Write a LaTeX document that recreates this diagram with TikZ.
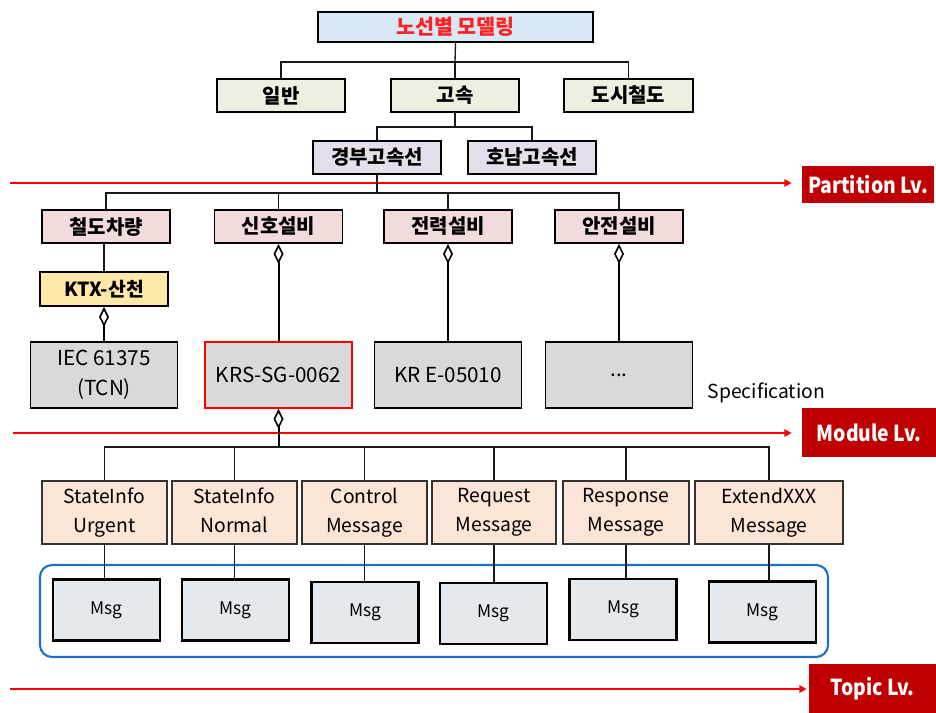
\documentclass[tikz,border=0pt]{standalone}
\usepackage{fontspec}
\setmainfont{Noto Sans CJK KR}
\usetikzlibrary{arrows.meta}
\definecolor{titlefill}{HTML}{D6E9F5}
\definecolor{rowtwo}{HTML}{EBF1DE}
\definecolor{rowthree}{HTML}{E5DFEC}
\definecolor{rowfour}{HTML}{F2DCDB}
\definecolor{ktxfill}{HTML}{FFE9A8}
\definecolor{specgray}{HTML}{D9D9D9}
\definecolor{peach}{HTML}{FBE5D6}
\definecolor{msgfill}{HTML}{E4E9EE}
\definecolor{groupblue}{HTML}{1F70C1}
\definecolor{lvlred}{HTML}{C00000}
\definecolor{titlered}{HTML}{FF2020}
\newcommand{\lvltext}[1]{\scalebox{0.88}[1]{#1}}
\begin{document}
\begin{tikzpicture}[x=0.75pt,y=-0.75pt,
  box/.style={draw=black, line width=1.4pt, inner sep=0pt, align=center},
  kbox/.style={box, font=\bfseries\fontsize{15}{17}\selectfont, minimum width=96pt, minimum height=24.75pt},
  specbox/.style={box, fill=specgray, minimum width=110.25pt, minimum height=49.5pt, font=\fontsize{15.5}{22.5}\selectfont},
  mbox/.style={draw=black!80, line width=0.9pt, fill=peach, inner sep=0pt, align=center, minimum height=47.25pt, font=\fontsize{14.5}{22}\selectfont, execute at begin node={\vphantom{M}}, execute at end node={\vphantom{g}}},
  msgbox/.style={box, line width=1.8pt, fill=msgfill, minimum width=80.25pt, minimum height=46pt, font=\fontsize{13}{15}\selectfont},
  conn/.style={draw=black!90, line width=1pt},
  aggr/.style={draw=black, line width=1.5pt, {Diamond[open,length=15pt,width=7.5pt,line width=1.2pt]}-},
  redarrow/.style={draw=red, line width=2pt, -{Triangle[length=5.5pt,width=5.5pt]}},
  lvl/.style={fill=lvlred, text=white, inner sep=0pt, font=\bfseries\fontsize{16.5}{18}\selectfont}
]
\useasboundingbox (0,0) rectangle (936,713);

% level lines
\coordinate (pstart) at (10,183);
\coordinate (mstart) at (13,433);
\coordinate (tstart) at (10,689);
\node[lvl, minimum width=99pt, minimum height=27.75pt] (plv) at (868,184.5) {\lvltext{Partition Lv.}};
\node[lvl, minimum width=100.5pt, minimum height=36.75pt] (mlv) at (869,432.5) {\lvltext{Module Lv.}};
\node[lvl, minimum width=95.25pt, minimum height=36.75pt] (tlv) at (872.5,688.5) {\lvltext{Topic Lv.}};
\draw[redarrow, shorten >=7.5pt] (pstart) -- (pstart -| plv.west);
\draw[redarrow, shorten >=7.5pt] (mstart) -- (mstart -| mlv.west);
\draw[redarrow, shorten >=1.5pt] (tstart) -- (tstart -| tlv.west);

% group box
\draw[groupblue, line width=1.6pt, rounded corners=9pt] (40,565) rectangle (828,657);

% title and rows
\node[box, fill=titlefill, minimum width=206.25pt, minimum height=22.5pt, text=titlered, font=\bfseries\fontsize{15.5}{17}\selectfont] (title) at (455.5,27) {노선별 모델링};
\node[kbox, fill=rowtwo] (ilban) at (281,95.5) {일반};
\node[kbox, fill=rowtwo] (gosok) at (455,95.5) {고속};
\node[kbox, fill=rowtwo, minimum width=96.75pt] (dosi) at (628.5,95.5) {도시철도};
\node[kbox, fill=rowthree] (gyeongbu) at (377,157.5) {경부고속선};
\node[kbox, fill=rowthree] (honam) at (532,157.5) {호남고속선};
\node[kbox, fill=rowfour] (cheoldo) at (106,226.5) {철도차량};
\node[kbox, fill=rowfour] (sinho) at (278.5,226.5) {신호설비};
\node[kbox, fill=rowfour] (jeonryeok) at (448,226.5) {전력설비};
\node[kbox, fill=rowfour] (anjeon) at (619,226.5) {안전설비};
\node[kbox, fill=ktxfill, minimum height=25.5pt, font=\bfseries\fontsize{14.5}{16}\selectfont] (ktx) at (104,289) {KTX-산천};

% specifications
\node[specbox] (iec) at (104,375) {IEC 61375\\(TCN)};
\node[specbox, draw=red] (krs) at (278.5,375) {KRS-SG-0062};
\node[specbox] (kre) at (448,375) {KR E-05010};
\node[specbox] (dots) at (619,375) {...};
\node[anchor=west, font=\fontsize{14.5}{17}\selectfont] (spec) at (703,393) {Specification};

% message boxes
\node[mbox, minimum width=93.75pt] (mb1) at (104.5,512.5) {StateInfo\\Urgent};
\node[mbox, minimum width=93.75pt] (mb2) at (234.5,512.5) {StateInfo\\Normal};
\node[mbox, minimum width=93.75pt] (mb3) at (364.5,512.5) {Control\\Message};
\node[mbox, minimum width=93pt] (mb4) at (494,512.5) {Request\\Message};
\node[mbox, minimum width=94.5pt] (mb5) at (626,512.5) {Response\\Message};
\node[mbox, minimum width=111pt] (mb6) at (769,512.5) {ExtendXXX\\Message};

% Msg boxes
\node[msgbox] (m1) at (106.5,610) {Msg};
\node[msgbox] (m2) at (235.5,610) {Msg};
\node[msgbox] (m3) at (365,612.5) {Msg};
\node[msgbox] (m4) at (493.5,613.5) {Msg};
\node[msgbox] (m5) at (623,609.5) {Msg};
\node[msgbox] (m6) at (762.5,612) {Msg};

% tree connectors
\coordinate (j1) at (455,62);
\coordinate (j2) at (455,127);
\coordinate (j3) at (377,193);
\coordinate (j4) at (278.5,447);
\draw[conn] (title.south) -- (j1);
\draw[conn] (j1) -| (ilban.north);
\draw[conn] (j1) -- (gosok.north);
\draw[conn] (j1) -| (dosi.north);
\draw[conn] (gosok.south) -- (j2);
\draw[conn] (j2) -| (gyeongbu.north);
\draw[conn] (j2) -| (honam.north);
\draw[conn] (gyeongbu.south) -- (j3);
\draw[conn] (j3) -| (cheoldo.north);
\draw[conn] (j3) -| (sinho.north);
\draw[conn] (j3) -| (jeonryeok.north);
\draw[conn] (j3) -| (anjeon.north);
\draw[conn] (cheoldo.south -| ktx.north) -- (ktx.north);
\draw[aggr] (ktx.south) -- (iec.north);
\draw[aggr] (sinho.south) -- (krs.north);
\draw[aggr] (jeonryeok.south) -- (kre.north);
\draw[aggr] (anjeon.south) -- (dots.north);
\draw[aggr] (krs.south) -- (j4);
\foreach \b in {mb1,mb2,mb3,mb4,mb5,mb6}{\draw[conn] (j4) -| (\b.north);}
\draw[conn] (mb1.south) -- (mb1.south |- m1.north);
\draw[conn] (mb2.south) -- (mb2.south |- m2.north);
\draw[conn] (mb3.south) -- (mb3.south |- m3.north);
\draw[conn] (mb4.south) -- (mb4.south |- m4.north);
\draw[conn] (mb5.south) -- (mb5.south |- m5.north);
\draw[conn] (mb6.south) -- (mb6.south |- m6.north);
\end{tikzpicture}
\end{document}
